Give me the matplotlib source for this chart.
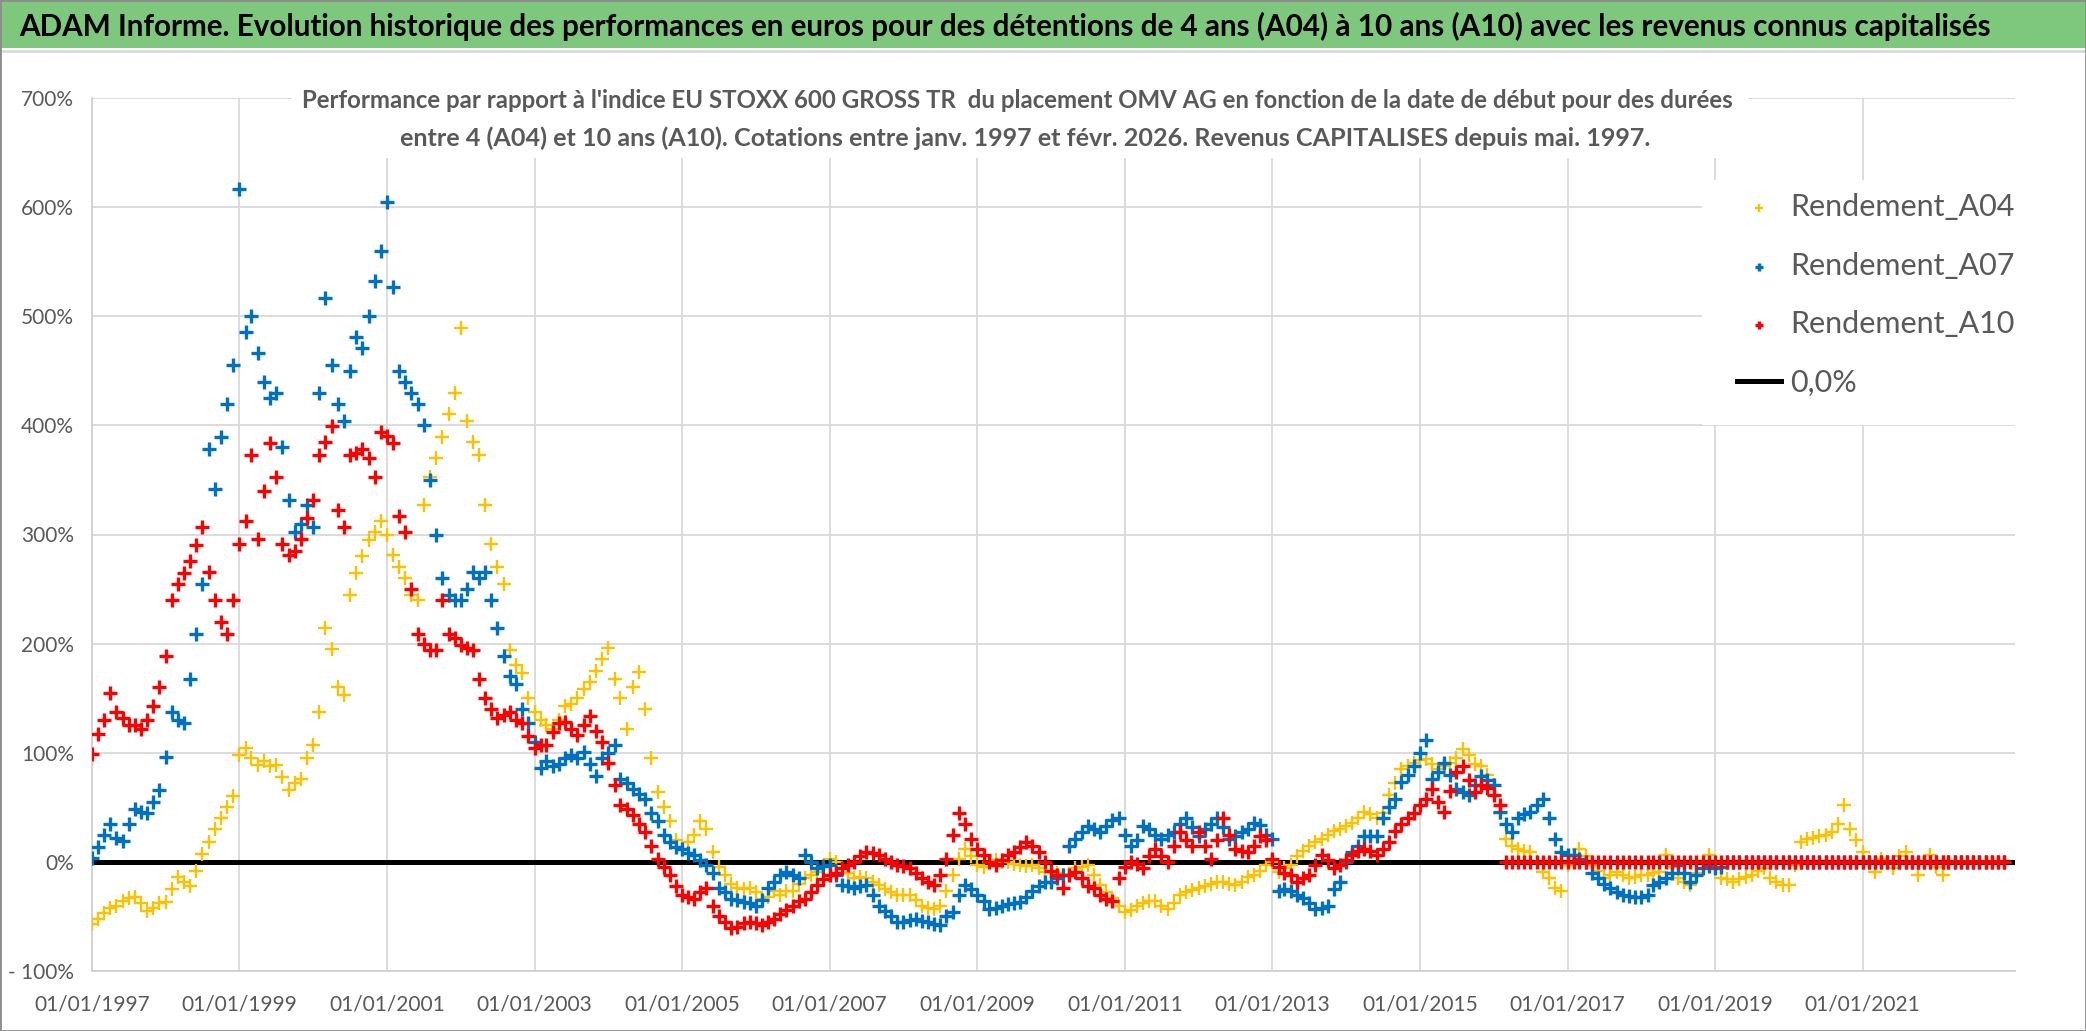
import matplotlib
matplotlib.use("Agg")
import matplotlib.pyplot as plt
from matplotlib import font_manager
from matplotlib.patches import Rectangle
from matplotlib.lines import Line2D
import numpy as np
import pandas as pd

# monthly readings (start date of the holding), in % vs the index
years = list(range(1997, 2023))

a04 = [
    -57, -52, -47, -42, -40, -36, -33, -32, -38, -45, -42, -38,   # 1997
    -37, -25, -14, -18, -22, -8, 7, 18, 30, 40, 50, 60,           # 1998
    98, 104, 95, 89, 92, 88, 89, 78, 66, 72, 76, 95,              # 1999
    107, 137, 214, 195, 160, 153, 245, 265, 280, 295, 302, 312,   # 2000
    300, 281, 270, 260, 245, 240, 327, 353, 370, 389, 410, 430,   # 2001
    489, 404, 385, 373, 327, 291, 270, 255, 194, 180, 173, 150,   # 2002
    137, 130, 125, 122, 130, 143, 145, 150, 158, 165, 175, 186,   # 2003
    196, 168, 150, 122, 160, 174, 140, 95, 64, 50, 37, 20,        # 2004
    12, 18, 25, 37, 30, 9, -5, -12, -20, -24, -25, -24,           # 2005
    -28, -34, -32, -27, -30, -27, -27, -20, -15, -12, -9, -5,     # 2006
    3, 0, -6, -10, -15, -14, -15, -18, -21, -25, -28, -30,        # 2007
    -30, -30, -35, -40, -42, -43, -40, -27, -12, 3, 12, 5,        # 2008
    -3, -5, 0, 2, 0, 0, -2, -3, -4, -3, -6, -9,                   # 2009
    -9, -10, -12, -12, -6, -5, -3, -12, -21, -28, -33, -40,       # 2010
    -46, -44, -40, -38, -36, -36, -40, -43, -38, -30, -28, -26,   # 2011
    -24, -22, -20, -18, -18, -20, -21, -18, -14, -12, -8, -3,     # 2012
    0, -9, -6, -3, 5, 10, 15, 18, 21, 25, 28, 30,                 # 2013
    33, 36, 40, 46, 44, 40, 45, 61, 72, 85, 88, 91,               # 2014
    93, 94, 90, 85, 88, 91, 95, 103, 98, 90, 88, 80,              # 2015
    70, 45, 21, 15, 12, 10, 9, 0, -9, -15, -24, -27,              # 2016
    -3, 5, 12, 5, -3, -8, -15, -12, -9, -12, -15, -14,            # 2017
    -12, -12, -10, -9, 6, -5, -15, -18, -21, -10, 0, 6,           # 2018
    -5, -15, -16, -18, -16, -14, -12, -8, -6, -15, -18, -21,      # 2019
    -21, -3, 18, 21, 22, 24, 25, 27, 35, 52, 30, 20,              # 2020
    9, 0, -9, 3, 0, -6, 5, 9, 0, -12, 0, 6,                       # 2021
    -5, -12, 0, 0, 0, 0, 0, 0, 0, 0, 0, 0,                        # 2022
]

a07 = [
    4, 14, 25, 35, 22, 19, 35, 48, 46, 45, 55, 66,                # 1997
    96, 137, 130, 127, 168, 209, 255, 378, 342, 389, 420, 455,    # 1998
    617, 486, 500, 466, 440, 425, 430, 380, 332, 302, 310, 327,   # 1999
    307, 430, 517, 455, 420, 404, 450, 481, 471, 500, 532, 560,   # 2000
    605, 527, 450, 440, 430, 420, 400, 350, 300, 260, 245, 240,   # 2001
    240, 250, 266, 260, 266, 240, 214, 189, 170, 163, 140, 127,   # 2002
    110, 86, 92, 88, 90, 95, 98, 95, 101, 90, 79, 95,             # 2003
    100, 107, 76, 72, 67, 62, 58, 45, 37, 25, 18, 14,             # 2004
    12, 8, 6, 2, -3, -10, -24, -28, -34, -35, -37, -38,           # 2005
    -40, -35, -24, -18, -12, -9, -12, -15, 6, 0, -6, -4,          # 2006
    -3, -12, -21, -22, -24, -22, -21, -30, -40, -45, -50, -55,    # 2007
    -55, -53, -52, -54, -55, -57, -58, -50, -46, -30, -21, -25,   # 2008
    -30, -36, -43, -42, -40, -39, -38, -37, -32, -27, -22, -18,   # 2009
    -18, -15, -12, 15, 21, 27, 33, 30, 27, 33, 38, 40,            # 2010
    25, 15, 20, 33, 30, 25, 21, 25, 27, 35, 40, 32,               # 2011
    24, 30, 35, 40, 32, 21, 24, 27, 30, 36, 34, 25,               # 2012
    21, -27, -25, -27, -30, -33, -38, -43, -42, -40, -25, -18,    # 2013
    0, 9, 15, 24, 24, 24, 40, 50, 58, 73, 80, 88,                 # 2014
    100, 112, 76, 82, 91, 80, 67, 64, 61, 70, 79, 75,             # 2015
    70, 46, 35, 27, 40, 44, 46, 52, 58, 40, 21, 9,                # 2016
    6, 6, 3, 0, -10, -15, -20, -24, -28, -30, -31, -32,           # 2017
    -32, -30, -21, -18, -15, -10, -3, -10, -18, -12, -6, -4,      # 2018
    -6, -5, 0, 0, 0, 0, 0, 0, 0, 0, 0, 0,                         # 2019
    0, 0, 0, 0, 0, 0, 0, 0, 0, 0, 0, 0,                           # 2020
    0, 0, 0, 0, 0, 0, 0, 0, 0, 0, 0, 0,                           # 2021
    0, 0, 0, 0, 0, 0, 0, 0, 0, 0, 0, 0,                           # 2022
]

a10 = [
    99, 117, 130, 155, 137, 132, 125, 125, 122, 130, 143, 160,    # 1997
    189, 240, 255, 265, 276, 290, 307, 266, 240, 220, 209, 240,   # 1998
    291, 312, 373, 296, 340, 384, 353, 291, 281, 285, 296, 315,   # 1999
    332, 373, 385, 399, 322, 307, 373, 375, 378, 370, 353, 394,   # 2000
    390, 384, 317, 302, 250, 209, 200, 194, 194, 240, 209, 205,   # 2001
    199, 196, 194, 168, 150, 140, 132, 135, 137, 130, 127, 115,   # 2002
    104, 107, 107, 119, 127, 128, 122, 116, 125, 134, 120, 110,   # 2003
    91, 70, 52, 48, 43, 35, 27, 15, 3, -5, -12, -22,              # 2004
    -30, -32, -34, -28, -24, -40, -50, -55, -61, -60, -56, -55,   # 2005
    -56, -58, -55, -52, -48, -44, -40, -36, -34, -28, -21, -16,   # 2006
    -12, -10, -6, -3, 0, 5, 9, 8, 6, 3, 0, -3,                    # 2007
    -4, -6, -10, -15, -18, -21, -12, 3, 25, 45, 35, 21,           # 2008
    12, 6, 0, -3, 2, 6, 9, 14, 18, 15, 9, 0,                      # 2009
    -8, -12, -24, -12, -9, -15, -22, -24, -30, -34, -36, -15,     # 2010
    -5, 0, -2, -6, 5, 12, 5, 0, 15, 27, 20, 15,                   # 2011
    27, 15, 3, 20, 40, 25, 12, 10, 9, 15, 24, 20,                 # 2012
    3, -5, -10, -12, -18, -15, -12, -3, 6, 2, -6, -3,             # 2013
    2, 6, 10, 12, 10, 6, 12, 18, 28, 35, 40, 45,                  # 2014
    52, 58, 67, 55, 46, 65, 82, 88, 75, 64, 70, 68,               # 2015
    61, 52, 0, 0, 0, 0, 0, 0, 0, 0, 0, 0,                         # 2016
    0, 0, 0, 0, 0, 0, 0, 0, 0, 0, 0, 0,                           # 2017
    0, 0, 0, 0, 0, 0, 0, 0, 0, 0, 0, 0,                           # 2018
    0, 0, 0, 0, 0, 0, 0, 0, 0, 0, 0, 0,                           # 2019
    0, 0, 0, 0, 0, 0, 0, 0, 0, 0, 0, 0,                           # 2020
    0, 0, 0, 0, 0, 0, 0, 0, 0, 0, 0, 0,                           # 2021
    0, 0, 0, 0, 0, 0, 0, 0, 0, 0, 0, 0,                           # 2022
]

series_names = ["Rendement_A04", "Rendement_A07", "Rendement_A10"]
series_colors = ["#FFC000", "#0070C0", "#FF0000"]
y_ticks = [-100, 0, 100, 200, 300, 400, 500, 600, 700]
x_tick_years = list(range(1997, 2023, 2))

TITLE = ("ADAM Informe. Evolution historique des performances en euros pour des "
         "détentions de 4 ans (A04) à 10 ans (A10) avec les revenus connus capitalisés")
SUB1 = ("Performance par rapport à l'indice EU STOXX 600 GROSS TR  du placement OMV AG "
        "en fonction de la date de début pour des durées")
SUB2 = ("entre 4 (A04) et 10 ans (A10). Cotations entre janv. 1997 et févr. 2026. "
        "Revenus CAPITALISES depuis mai. 1997.")

names = {f.name for f in font_manager.fontManager.ttflist}
FONT = "Liberation Sans Narrow" if "Liberation Sans Narrow" in names else "Lato"
plt.rcParams["font.family"] = [FONT, "DejaVu Sans"]

W, H = 2086, 1031
fig = plt.figure(figsize=(W / 100, H / 100), dpi=100)
fig.patch.set_facecolor("white")


def fx(px):
    return px / W


def fy(py):
    return 1 - py / H


ax = fig.add_axes([fx(92), fy(971), fx(2015) - fx(92), fy(98) - fy(971)])

dates = pd.date_range("1997-01-01", periods=len(years) * 12, freq="MS")

ax.axhline(0, color="black", lw=3.6, zorder=2, label="0,0%")
lws = [1.7, 2.4, 2.4]
for vals, name, col, lw in zip([a04, a07, a10], series_names, series_colors, lws):
    ax.scatter(dates, vals, marker="+", s=95, linewidths=lw, color=col,
               label=name, zorder=3)

ax.set_xlim(pd.Timestamp("1997-01-01"), pd.Timestamp("2023-01-25"))
ax.set_ylim(-100, 700)
ax.set_yticks(y_ticks)
ax.set_yticklabels([f"{v}%" if v >= 0 else f"- {abs(v)}%" for v in y_ticks])
xt = [pd.Timestamp(f"{y}-01-01") for y in x_tick_years]
ax.set_xticks(xt)
ax.set_xticklabels([t.strftime("%d/%m/%Y") for t in xt])

ax.grid(True, color="#D9D9D9", lw=1.3, zorder=0)
ax.set_axisbelow(True)
for s in ["top", "right"]:
    ax.spines[s].set_visible(False)
for s in ["left", "bottom"]:
    ax.spines[s].set_color("#D0D0D0")
    ax.spines[s].set_linewidth(1.3)
ax.tick_params(axis="both", length=0, labelcolor="#595959", labelsize=15)
ax.tick_params(axis="y", pad=13)
ax.tick_params(axis="x", pad=17)

# green title band
fig.patches.append(Rectangle((0, fy(48)), 1, 48 / H, transform=fig.transFigure,
                             facecolor="#7DC87D", edgecolor="none", zorder=0.5))
fig.add_artist(Line2D([0, 1], [fy(51), fy(51)], transform=fig.transFigure,
                      color="#D9D9D9", lw=2))
fig.patches.append(Rectangle((0, 0), 1, 1, transform=fig.transFigure,
                             facecolor="none", edgecolor="#8C8C8C", lw=2, zorder=10))

# white boxes behind subtitle and legend (cover the grid like the original)
fig.patches.append(Rectangle((fx(292), fy(158)), fx(1748) - fx(292), fy(96) - fy(158),
                             transform=fig.transFigure, facecolor="white",
                             edgecolor="none", zorder=1))
fig.patches.append(Rectangle((fx(1702), fy(425)), fx(2030) - fx(1702), fy(180) - fy(425),
                             transform=fig.transFigure, facecolor="white",
                             edgecolor="none", zorder=1))

t_title = fig.text(fx(1005), fy(26), TITLE, ha="center", va="center",
                   fontsize=22, fontweight="bold", color="black", zorder=5)
t_sub1 = fig.text(fx(1017), fy(101), SUB1, ha="center", va="center",
                  fontsize=18, fontweight="bold", color="#595959", zorder=5)
t_sub2 = fig.text(fx(1025), fy(138), SUB2, ha="center", va="center",
                  fontsize=18, fontweight="bold", color="#595959", zorder=5)

renderer = fig.canvas.get_renderer()
for t, target in [(t_title, 1975), (t_sub1, 1429), (t_sub2, 1253)]:
    w = t.get_window_extent(renderer=renderer).width
    t.set_fontsize(t.get_fontsize() * target / w)

handles, labels = ax.get_legend_handles_labels()
order = [labels.index(n) for n in series_names + ["0,0%"]]
leg = fig.legend([handles[i] for i in order], [labels[i] for i in order],
                 loc="upper left", bbox_to_anchor=(fx(1737), fy(193)),
                 frameon=False, fontsize=22, labelcolor="#595959",
                 handlelength=1.45, handletextpad=0.3, labelspacing=1.0,
                 markerscale=0.6, borderpad=0, borderaxespad=0)
leg.set_zorder(6)

fig.savefig("out.png", dpi=100)
